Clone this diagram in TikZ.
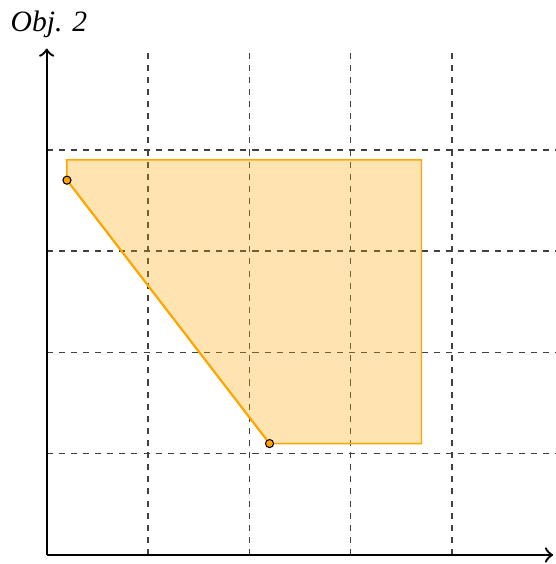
\documentclass[tikz,border=0pt]{standalone}
\usepackage{fontspec}
\setmainfont{Liberation Serif}
\definecolor{weborange}{HTML}{FFA500}
\begin{document}
\begin{tikzpicture}[
  gridline/.style={dash pattern=on 1.7pt off 1.7pt, line width=0.4pt, black!75},
  axisline/.style={line width=0.65pt, -to},
  region/.style={fill=weborange, fill opacity=0.3, draw=weborange, draw opacity=1, line width=0.4pt},
  edgeline/.style={draw=weborange, line width=0.6pt},
  vertex/.style={circle, fill=weborange, draw=black, line width=0.3pt, inner sep=0pt, minimum size=0.8mm}
]
\useasboundingbox (-0.461,-0.089) rectangle (5.028,5.479);
% grid
\foreach \i in {1,2,3,4} {
  \draw[gridline] (\i,0) -- (\i,5);
  \draw[gridline] (0,\i) -- (5.03,\i);
}
% feasible region
\coordinate (p1) at (0.2,3.9);
\coordinate (p2) at (3.7,3.9);
\coordinate (p3) at (3.7,1.1);
\draw[region] (p1) -- (p2) -- (p3) -- (2.2,1.1) -- (0.2,3.7) -- cycle;
% axes
\coordinate (o) at (0,0);
\coordinate (xe) at (5.0,0);
\coordinate (ye) at (0,5.0);
\draw[axisline] (o) -- (xe);
\draw[axisline] (o) -- (ye);
% edge with vertices
\node[vertex] (a) at (0.2,3.7) {};
\node[vertex] (b) at (2.2,1.1) {};
\draw[edgeline] (a) -- (b);
% label
\node[anchor=base west, inner sep=0pt, font=\itshape\fontsize{8.3pt}{9pt}\selectfont] (lbl) at (-0.362,5.166) {Obj. 2};
\end{tikzpicture}
\end{document}
